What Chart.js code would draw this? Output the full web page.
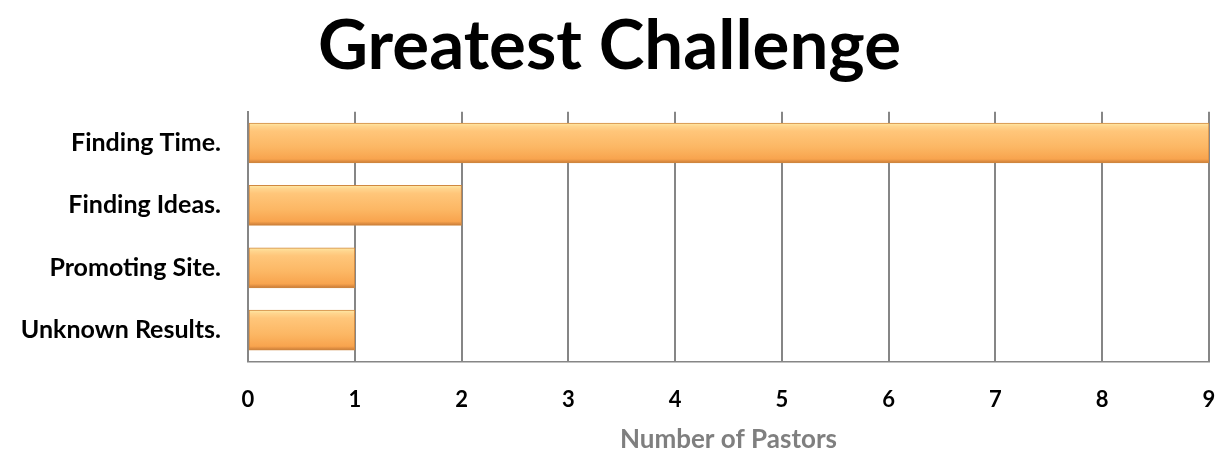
<!DOCTYPE html>
<html>
<head>
<meta charset="utf-8">
<script src="https://cdn.jsdelivr.net/npm/chart.js@4.4.0/dist/chart.umd.min.js"></script>
<style>
  html, body { margin: 0; padding: 0; background: #fff; }
  #wrap { width: 1225px; height: 465px; }
</style>
</head>
<body>
<div id="wrap"><canvas id="chart" width="1225" height="465"></canvas></div>
<script>
// data
const categories = ['Finding Time.', 'Finding Ideas.', 'Promoting Site.', 'Unknown Results.'];
const pastors = [9, 2, 1, 1];
const xTicks = [0, 1, 2, 3, 4, 5, 6, 7, 8, 9];

const FONT = 'Lato, "Open Sans", sans-serif';
const BAR_H = 40;

// vertical gradient per bar, positioned from the category scale
function barFill(c) {
    const chart = c.chart;
    const y = chart.scales && chart.scales.y;
    if (!y || c.type !== 'data') return '#fbb866';
    const mid = y.getPixelForValue(c.dataIndex);
    if (!isFinite(mid)) return '#fbb866';
    const g = chart.ctx.createLinearGradient(0, mid - BAR_H / 2, 0, mid + BAR_H / 2);
    g.addColorStop(0, '#ffeaa6');
    g.addColorStop(0.08, '#ffd58e');
    g.addColorStop(0.2, '#ffc67a');
    g.addColorStop(0.6, '#fcb764');
    g.addColorStop(0.9, '#f8a44e');
    g.addColorStop(1, '#c87a36');
    return g;
}

new Chart(document.getElementById('chart'), {
    type: 'bar',
    data: {
        labels: categories,
        datasets: [{
            data: pastors,
            backgroundColor: barFill,
            borderColor: '#d08840',
            borderWidth: 1,
            borderSkipped: false,
            barThickness: BAR_H
        }]
    },
    options: {
        responsive: false,
        animation: false,
        indexAxis: 'y',
        layout: { padding: { left: 10, right: 16, top: 0, bottom: 10 } },
        plugins: {
            legend: { display: false },
            tooltip: { enabled: false },
            title: {
                display: true,
                text: 'Greatest Challenge',
                color: '#000',
                font: { family: FONT, size: 69, weight: 'bold' },
                padding: { top: 5, bottom: 24 }
            }
        },
        scales: {
            x: {
                min: 0,
                max: 9,
                afterBuildTicks: (s) => { s.ticks = xTicks.map(v => ({ value: v })); },
                grid: { color: '#868686', lineWidth: 2, drawTicks: true, tickLength: 22, tickColor: 'rgba(0,0,0,0)' },
                border: { display: true, color: '#868686', width: 1.5 },
                ticks: { color: '#000', padding: 3, font: { family: FONT, size: 22, weight: 'bold' } },
                title: {
                    display: true,
                    text: 'Number of Pastors',
                    color: '#7f7f7f',
                    font: { family: FONT, size: 26, weight: 'bold' },
                    padding: { top: 8, bottom: 0 }
                }
            },
            y: {
                afterFit: (s) => { s.width = 238; },
                grid: { display: false, drawTicks: false },
                border: { display: true, color: '#868686', width: 2 },
                ticks: { color: '#000', padding: 27, font: { family: FONT, size: 25, weight: 'bold' } }
            }
        }
    }
});
</script>
</body>
</html>
